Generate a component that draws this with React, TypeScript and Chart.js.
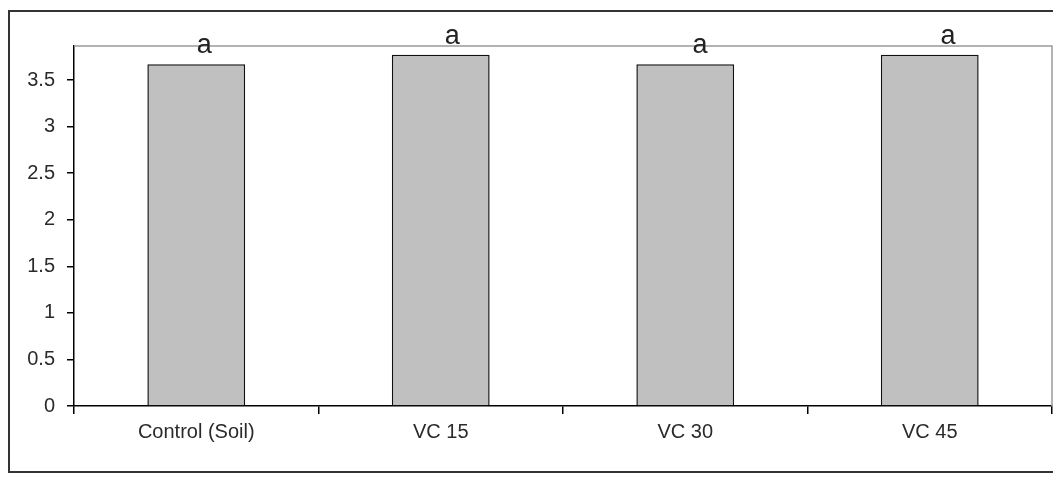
import React, { useEffect, useRef } from "react";
import { Chart, registerables } from "chart.js";

Chart.register(...registerables);

const categories = ["Control (Soil)", "VC 15", "VC 30", "VC 45"];
const values = [3.67, 3.77, 3.67, 3.77];
const letters = ["a", "a", "a", "a"];
const yMax = 3.865;
const yStep = 0.5;

const W = 1053;
const H = 476;
const FONT = "'Liberation Sans', Arial, sans-serif";

const framePlugin = {
  id: "frameAndLetters",
  beforeDraw(chart: any) {
    const ctx = chart.ctx;
    ctx.save();
    ctx.fillStyle = "#ffffff";
    ctx.fillRect(0, 0, chart.width, chart.height);
    ctx.restore();
  },
  afterDraw(chart: any) {
    const ctx = chart.ctx;
    const a = chart.chartArea;
    ctx.save();
    // outer chart box (right side runs off the picture)
    ctx.strokeStyle = "#333333";
    ctx.lineWidth = 2;
    ctx.beginPath();
    ctx.moveTo(chart.width + 2, 3);
    ctx.lineTo(1, 3);
    ctx.lineTo(1, 464);
    ctx.lineTo(chart.width + 2, 464);
    ctx.stroke();
    // plot frame top & right
    ctx.strokeStyle = "#9a9a9a";
    ctx.lineWidth = 1.5;
    ctx.beginPath();
    ctx.moveTo(a.left, a.top);
    ctx.lineTo(a.right, a.top);
    ctx.lineTo(a.right, a.bottom);
    ctx.stroke();
    // letters above bars
    const meta = chart.getDatasetMeta(0);
    ctx.fillStyle = "#222222";
    ctx.font = `27px ${FONT}`;
    ctx.textAlign = "center";
    ctx.textBaseline = "alphabetic";
    meta.data.forEach((bar: any, i: number) => {
      ctx.fillText(letters[i], bar.x + 8 + i * 3.4, bar.y - 11);
    });
    ctx.restore();
  },
};

export default function App() {
  const ref = useRef<HTMLCanvasElement | null>(null);
  useEffect(() => {
    if (!ref.current) return;
    const chart = new Chart(ref.current, {
      type: "bar",
      data: {
        labels: categories,
        datasets: [
          {
            data: values,
            backgroundColor: "#c0c0c0",
            borderColor: "#111111",
            borderWidth: 1.5,
            barPercentage: 0.4,
            categoryPercentage: 1,
          },
        ],
      },
      options: {
        animation: false,
        responsive: false,
        devicePixelRatio: 1,
        layout: { padding: { left: 0, right: 9, top: 38, bottom: 0 } },
        plugins: {
          legend: { display: false },
          tooltip: { enabled: false },
          title: { display: false },
        },
        scales: {
          x: {
            afterFit: (s: any) => {
              s.height = 78;
            },
            grid: {
              offset: true,
              drawOnChartArea: false,
              drawTicks: true,
              tickLength: 8,
              color: "#000000",
              lineWidth: 1.5,
            },
            border: { display: true, color: "#000000", width: 1.5 },
            ticks: {
              color: "#2a2a2a",
              font: { family: FONT, size: 20 },
              padding: 6,
              maxRotation: 0,
              autoSkip: false,
            },
          },
          y: {
            min: 0,
            max: yMax,
            afterFit: (s: any) => {
              s.width = 66;
            },
            afterBuildTicks: (s: any) => {
              s.ticks = s.ticks.filter(
                (t: any) => Math.abs(t.value / yStep - Math.round(t.value / yStep)) < 1e-6
              );
            },
            grid: {
              drawOnChartArea: false,
              drawTicks: true,
              tickLength: 7,
              color: "#000000",
              lineWidth: 1.5,
            },
            border: { display: true, color: "#000000", width: 1.5 },
            ticks: {
              stepSize: yStep,
              color: "#2a2a2a",
              font: { family: FONT, size: 20 },
              padding: 12,
              callback: (v: any) => String(v),
            },
          },
        },
      },
      plugins: [framePlugin],
    });
    return () => chart.destroy();
  }, []);
  return (
    <canvas
      ref={ref}
      width={W}
      height={H}
      style={{ display: "block", width: W, height: H }}
    />
  );
}
